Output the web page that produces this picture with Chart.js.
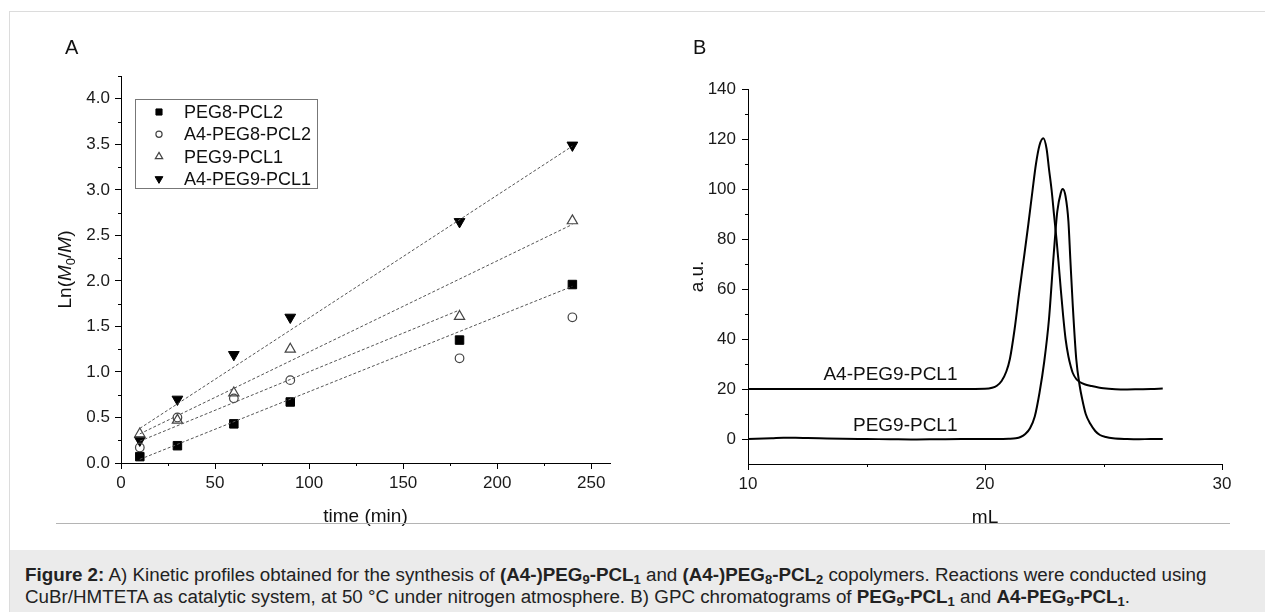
<!DOCTYPE html>
<html>
<head>
<meta charset="utf-8">
<script src="https://cdn.jsdelivr.net/npm/chart.js@4.4.1/dist/chart.umd.min.js"></script>
<style>
  body { margin: 0; background: #fff; font-family: "Liberation Sans", Arial, sans-serif; }
  #wrap { position: relative; width: 1265px; height: 612px; overflow: hidden; background: #fff; }
  #frameTop { position: absolute; left: 9px; top: 11px; width: 1256px; height: 1px; background: #dcdcdc; }
  #frameLeft { position: absolute; left: 9px; top: 11px; width: 1px; height: 601px; background: #dcdcdc; }
  #kineticChart { position: absolute; left: 0; top: 0; }
  #gpcChart { position: absolute; left: 640px; top: 0; }
  #sep { position: absolute; left: 56px; top: 523px; width: 1174px; height: 1px; background: #b4b4b4; }
  #caption { position: absolute; left: 10px; top: 550px; width: 1255px; height: 62px; background: #ebebeb;
             box-sizing: border-box; padding: 14px 0 0 15px; font-size: 18.8px; line-height: 22px; color: #222;
             white-space: nowrap; }
  #caption sub { font-size: 13px; line-height: 0; vertical-align: -3px; }
</style>
</head>
<body>
<div id="wrap">
  <div id="frameTop"></div>
  <div id="frameLeft"></div>
  <canvas id="kineticChart" width="640" height="545"></canvas>
  <canvas id="gpcChart" width="625" height="545"></canvas>
  <div id="sep"></div>
  <div id="caption"><b>Figure 2:</b> A) Kinetic profiles obtained for the synthesis of <b>(A4-)PEG<sub>9</sub>-PCL<sub>1</sub></b> and <b>(A4-)PEG<sub>8</sub>-PCL<sub>2</sub></b> copolymers. Reactions were conducted using<br>CuBr/HMTETA as catalytic system, at 50 °C under nitrogen atmosphere. B) GPC chromatograms of <b>PEG<sub>9</sub>-PCL<sub>1</sub></b> and <b>A4-PEG<sub>9</sub>-PCL<sub>1</sub></b>.</div>
</div>
<script>
// Panel A - kinetics
var timeMin = [10, 30, 60, 90, 180, 240];
var peg8pcl2 = [0.07, 0.19, 0.43, 0.67, 1.35, 1.96];
var a4peg8pcl2 = [0.17, 0.50, 0.71, 0.91, 1.15, 1.60];
var peg9pcl1 = [0.32, 0.47, 0.77, 1.25, 1.61, 2.66];
var a4peg9pcl1 = [0.25, 0.70, 1.19, 1.60, 2.65, 3.49];

// fitted (dashed) lines, end points
var fitX = [10, 240];
var fitXshort = [10, 180];
var fitA4peg9 = [0.38, 3.48];
var fitPeg9 = [0.32, 2.62];
var fitShort = [0.24, 1.68];
var fitPeg8 = [0.04, 1.94];

var xTicksA = [0, 50, 100, 150, 200, 250];
var xMinorA = [25, 75, 125, 175, 225];
var yTicksA = [0, 0.5, 1.0, 1.5, 2.0, 2.5, 3.0, 3.5, 4.0];
var yMinorA = [0.25, 0.75, 1.25, 1.75, 2.25, 2.75, 3.25, 3.75, 4.25];

// Panel B - GPC traces
var gpcX_peg9 = [10, 11, 11.5, 12, 12.5, 13, 14, 15, 16, 17, 18, 19, 20, 20.5, 21, 21.3, 21.5, 21.7, 21.9, 22.1, 22.3, 22.5, 22.7, 22.9, 23.05, 23.2, 23.28, 23.4, 23.52, 23.6, 23.7, 23.85, 24.0, 24.1, 24.25, 24.45, 24.65, 24.85, 25.1, 25.4, 26, 26.5, 27, 27.5];
var gpcY_peg9 = [0, 0.3, 0.5, 0.5, 0.4, 0.3, 0.1, 0, -0.1, -0.2, -0.1, 0, 0, 0, 0.1, 0.3, 0.8, 2, 4.3, 9, 18.5, 31, 48, 74, 91, 98.5, 100, 97, 87, 72, 54, 32, 21, 16, 10, 6, 3.2, 1.6, 0.8, 0.3, 0, -0.1, 0, 0];
var gpcX_a4 = [10, 11, 12, 13, 14, 15, 16, 17, 18, 19, 20, 20.3, 20.5, 20.7, 20.9, 21.05, 21.25, 21.45, 21.65, 21.83, 22.0, 22.15, 22.3, 22.46, 22.6, 22.7, 22.81, 22.92, 23.02, 23.1, 23.2, 23.3, 23.4, 23.52, 23.62, 23.7, 23.85, 24.0, 24.2, 24.5, 25.0, 25.5, 26, 26.5, 27, 27.5];
var gpcY_a4 = [20, 20, 20, 20, 20, 20, 20, 20, 20, 20, 20.1, 20.5, 21.3, 23.2, 27, 32, 44, 59, 73, 86, 99, 110, 117.5, 120.3, 116, 108, 99.6, 89, 79.6, 71, 59.6, 49, 40, 33, 29, 26.5, 24, 22.8, 21.9, 21.2, 20.3, 19.9, 19.8, 19.9, 20, 20.2];

var xTicksB = [10, 20, 30];
var xMinorB = [15, 25];
var yTicksB = [0, 20, 40, 60, 80, 100, 120, 140];
var yMinorB = [10, 30, 50, 70, 90, 110, 130];

var FONT = '"Liberation Sans", Arial, sans-serif';

function pts(xs, ys) {
  return xs.map(function (x, i) { return { x: x, y: ys[i] }; });
}

function setTicks(values) {
  return function (scale) {
    scale.ticks = values.map(function (v) { return { value: v }; });
  };
}

// small outward ticks between the labelled ones
var minorTicks = {
  id: 'minorTicks',
  afterDraw: function (chart, args, opts) {
    var ctx = chart.ctx, xs = chart.scales.x, ys = chart.scales.y;
    ctx.save();
    ctx.strokeStyle = '#000';
    ctx.lineWidth = 1;
    (opts.x || []).forEach(function (v) {
      var px = Math.round(xs.getPixelForValue(v)) + 0.5;
      ctx.beginPath(); ctx.moveTo(px, xs.top); ctx.lineTo(px, xs.top + 3); ctx.stroke();
    });
    (opts.y || []).forEach(function (v) {
      var py = Math.round(ys.getPixelForValue(v)) + 0.5;
      ctx.beginPath(); ctx.moveTo(ys.right, py); ctx.lineTo(ys.right - 3, py); ctx.stroke();
    });
    ctx.restore();
  }
};

// axis titles and panel letter
var decor = {
  id: 'decor',
  afterDraw: function (chart, args, opts) {
    var ctx = chart.ctx, area = chart.chartArea;
    ctx.save();
    ctx.fillStyle = '#111';
    ctx.textBaseline = 'middle';
    ctx.textAlign = 'left';
    ctx.font = '20px ' + FONT;
    ctx.fillText(opts.letter, opts.letterX, opts.letterY);

    ctx.textAlign = 'center';
    ctx.font = '19px ' + FONT;
    ctx.fillText(opts.xTitle, (area.left + area.right) / 2, area.bottom + 54);

    // rotated y title made of pieces
    var parts = opts.yTitle;
    var total = 0;
    parts.forEach(function (p) { ctx.font = p.f + FONT; p.w = ctx.measureText(p.t).width; total += p.w; });
    ctx.translate(area.left - opts.yTitleGap, (area.top + area.bottom) / 2);
    ctx.rotate(-Math.PI / 2);
    ctx.textAlign = 'left';
    var cx = -total / 2;
    parts.forEach(function (p) {
      ctx.font = p.f + FONT;
      ctx.fillText(p.t, cx, p.dy || 0);
      cx += p.w;
    });
    ctx.restore();
  }
};

// framed legend inside plot A
var boxLegend = {
  id: 'boxLegend',
  afterDraw: function (chart, args, opts) {
    if (!opts.show) return;
    var ctx = chart.ctx;
    ctx.save();
    ctx.strokeStyle = '#777';
    ctx.lineWidth = 1;
    ctx.strokeRect(opts.left + 0.5, opts.top + 0.5, opts.width, opts.height);
    var row = 0;
    chart.data.datasets.forEach(function (ds) {
      if (!ds.inLegend) return;
      var y = opts.top + opts.firstRow + row * opts.rowGap;
      ctx.fillStyle = ds.pointBackgroundColor;
      ctx.strokeStyle = ds.pointBorderColor;
      ctx.lineWidth = ds.pointBorderWidth;
      Chart.helpers.drawPoint(ctx, {
        pointStyle: ds.pointStyle, rotation: ds.pointRotation || 0,
        radius: ds.pointRadius * 0.72, borderWidth: ds.pointBorderWidth
      }, opts.left + opts.markerX, y);
      ctx.fillStyle = '#111';
      ctx.font = '18px ' + FONT;
      ctx.textBaseline = 'middle';
      ctx.textAlign = 'left';
      ctx.fillText(ds.label, opts.left + opts.textX, y + 1);
      row++;
    });
    ctx.restore();
  }
};

// text labels next to the GPC traces
var curveLabels = {
  id: 'curveLabels',
  afterDraw: function (chart, args, opts) {
    if (!opts.items) return;
    var ctx = chart.ctx, xs = chart.scales.x, ys = chart.scales.y;
    ctx.save();
    ctx.fillStyle = '#111';
    ctx.font = '19px ' + FONT;
    ctx.textAlign = 'right';
    ctx.textBaseline = 'middle';
    opts.items.forEach(function (it) {
      ctx.fillText(it.text, xs.getPixelForValue(it.x), ys.getPixelForValue(it.y));
    });
    ctx.restore();
  }
};

function axis(min, max, ticks, pad, fitSize, isX) {
  return {
    type: 'linear',
    min: min, max: max,
    afterBuildTicks: setTicks(ticks),
    afterFit: function (scale) {
      if (isX) scale.height = fitSize; else scale.width = fitSize;
    },
    border: { display: true, color: '#000', width: 1 },
    grid: { display: true, drawOnChartArea: false, drawTicks: true, tickLength: 6, color: '#000' },
    ticks: {
      color: '#1a1a1a', padding: pad, maxRotation: 0, autoSkip: false,
      font: { family: FONT, size: 17 },
      callback: function (v) { return isX ? String(v) : (ticks[ticks.length - 1] < 10 ? v.toFixed(1) : String(v)); }
    }
  };
}

function marker(label, ys, style, filled, rot, radius) {
  return {
    label: label, inLegend: true,
    data: pts(timeMin, ys),
    showLine: false,
    pointStyle: style, pointRotation: rot,
    pointRadius: radius,
    pointBorderWidth: filled ? 1 : 1.2,
    pointBackgroundColor: filled ? '#000' : 'rgba(255,255,255,0)',
    pointBorderColor: filled ? '#000' : '#444',
    pointHoverRadius: radius
  };
}

function fitLine(xs, ys) {
  return {
    label: 'fit', inLegend: false, type: 'line',
    data: pts(xs, ys),
    borderColor: '#555', borderWidth: 1, borderDash: [3, 2],
    pointRadius: 0, fill: false
  };
}

var kineticCanvas = document.getElementById('kineticChart');
new Chart(kineticCanvas, {
  type: 'scatter',
  data: {
    datasets: [
      fitLine(fitX, fitA4peg9),
      fitLine(fitX, fitPeg9),
      fitLine(fitXshort, fitShort),
      fitLine(fitX, fitPeg8),
      marker('PEG8-PCL2', peg8pcl2, 'rect', true, 0, 6),
      marker('A4-PEG8-PCL2', a4peg8pcl2, 'circle', false, 0, 4.3),
      marker('PEG9-PCL1', peg9pcl1, 'triangle', false, 0, 5.9),
      marker('A4-PEG9-PCL1', a4peg9pcl1, 'triangle', true, 180, 6.2)
    ]
  },
  options: {
    responsive: false,
    animation: false,
    devicePixelRatio: 1,
    layout: { padding: { left: 0, top: 76, right: 30, bottom: 0 } },
    scales: {
      x: axis(0, 260, xTicksA, 4, 82, true),
      y: axis(0, 4.25, yTicksA, 5, 121, false)
    },
    plugins: {
      legend: { display: false },
      tooltip: { enabled: false },
      minorTicks: { x: xMinorA, y: yMinorA },
      boxLegend: { show: true, left: 135, top: 99, width: 182, height: 89, markerX: 24, textX: 49, firstRow: 13, rowGap: 22.3 },
      decor: {
        letter: 'A', letterX: 65, letterY: 48, xTitle: 'time (min)', yTitleGap: 55,
        yTitle: [
          { t: 'Ln(', f: '19px ' },
          { t: 'M', f: 'italic 19px ' },
          { t: '0', f: '13px ', dy: 5 },
          { t: '/', f: '19px ' },
          { t: 'M', f: 'italic 19px ' },
          { t: ')', f: '19px ' }
        ]
      }
    }
  },
  plugins: [minorTicks, decor, boxLegend]
});

var gpcCanvas = document.getElementById('gpcChart');
new Chart(gpcCanvas, {
  type: 'scatter',
  data: {
    datasets: [
      {
        label: 'PEG9-PCL1', data: pts(gpcX_peg9, gpcY_peg9), showLine: true,
        borderColor: '#000', borderWidth: 2, pointRadius: 0, cubicInterpolationMode: 'monotone'
      },
      {
        label: 'A4-PEG9-PCL1', data: pts(gpcX_a4, gpcY_a4), showLine: true,
        borderColor: '#000', borderWidth: 2, pointRadius: 0, cubicInterpolationMode: 'monotone'
      }
    ]
  },
  options: {
    responsive: false,
    animation: false,
    devicePixelRatio: 1,
    layout: { padding: { left: 0, top: 89, right: 43, bottom: 0 } },
    scales: {
      x: axis(10, 30, xTicksB, 4, 81, true),
      y: axis(-10, 140, yTicksB, 6, 108, false)
    },
    plugins: {
      legend: { display: false },
      tooltip: { enabled: false },
      minorTicks: { x: xMinorB, y: yMinorB },
      curveLabels: { items: [
        { text: 'A4-PEG9-PCL1', x: 18.84, y: 25.8 },
        { text: 'PEG9-PCL1', x: 18.84, y: 5.4 }
      ] },
      decor: {
        letter: 'B', letterX: 53, letterY: 48, xTitle: 'mL', yTitleGap: 50,
        yTitle: [{ t: 'a.u.', f: '19px ' }]
      }
    }
  },
  plugins: [minorTicks, decor, curveLabels]
});
</script>
</body>
</html>
